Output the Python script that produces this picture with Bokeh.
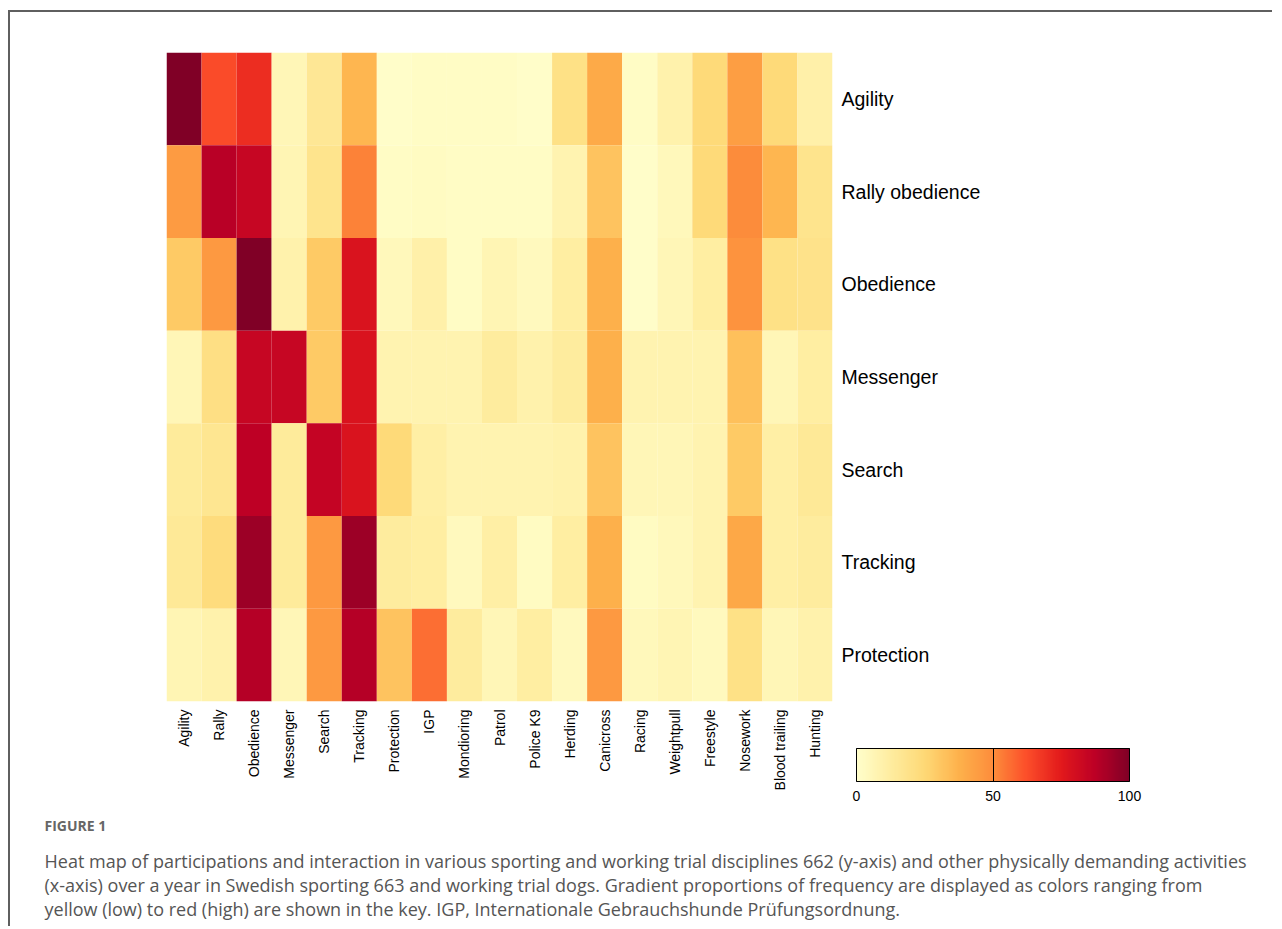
import math
from bokeh.plotting import figure
from bokeh.models import LinearColorMapper, ColorBar, FixedTicker, Title, ColumnDataSource
from bokeh.palettes import YlOrRd9, interp_palette
from bokeh.embed import file_html
from bokeh.resources import INLINE

# ---------------- data ----------------
activities = ["Agility", "Rally", "Obedience", "Messenger", "Search", "Tracking",
              "Protection", "IGP", "Mondioring", "Patrol", "Police K9", "Herding",
              "Canicross", "Racing", "Weightpull", "Freestyle", "Nosework",
              "Blood trailing", "Hunting"]
disciplines = ["Agility", "Rally obedience", "Obedience", "Messenger", "Search",
               "Tracking", "Protection"]

agility_vals    = [100, 63, 70, 6, 16, 36, 1, 2, 2, 2, 1, 20, 40, 2, 9, 24, 44, 24, 10]
rally_vals      = [45, 88, 84, 7, 18, 52, 2, 3, 2, 2, 2, 8, 32, 1, 5, 24, 50, 36, 18]
obedience_vals  = [30, 46, 100, 9, 30, 78, 5, 10, 2, 7, 4, 12, 38, 1, 6, 12, 48, 20, 19]
messenger_vals  = [6, 21, 84, 84, 30, 78, 8, 8, 8, 13, 9, 13, 38, 8, 8, 8, 33, 6, 12]
search_vals     = [14, 17, 87, 14, 85, 78, 24, 11, 8, 8, 8, 9, 32, 6, 6, 8, 30, 11, 15]
tracking_vals   = [15, 23, 94, 14, 46, 94, 13, 12, 4, 11, 3, 12, 38, 3, 5, 8, 41, 11, 13]
protection_vals = [7, 9, 89, 6, 46, 89, 32, 56, 13, 6, 12, 4, 46, 5, 7, 4, 20, 6, 9]

rows_vals = [agility_vals, rally_vals, obedience_vals, messenger_vals,
             search_vals, tracking_vals, protection_vals]

colorbar_ticks = [0, 50, 100]

caption_head = "FIGURE 1"
caption_lines = [
    "Heat map of participations and interaction in various sporting and working trial disciplines 662 (y-axis) and other physically demanding activities",
    "(x-axis) over a year in Swedish sporting 663 and working trial dogs. Gradient proportions of frequency are displayed as colors ranging from",
    "yellow (low) to red (high) are shown in the key. IGP, Internationale Gebrauchshunde Pr\u00fcfungsordnung.",
]

# ---------------- build ----------------
xs, ys, vs = [], [], []
for d, vals in zip(disciplines, rows_vals):
    for a, v in zip(activities, vals):
        xs.append(a)
        ys.append(d)
        vs.append(v)
src = ColumnDataSource(dict(x=xs, y=ys, v=vs))

palette = interp_palette(list(reversed(YlOrRd9)), 256)
mapper = LinearColorMapper(palette=palette, low=0, high=100)

p = figure(x_range=activities, y_range=list(reversed(disciplines)),
           frame_width=666, frame_height=649,
           min_border_left=156, min_border_right=440,
           min_border_top=40, min_border_bottom=225,
           y_axis_location="right",
           toolbar_location=None, output_backend="svg")

p.rect(x="x", y="y", width=1, height=1, source=src,
       fill_color={"field": "v", "transform": mapper}, line_color=None)

p.outline_line_color = None
p.xgrid.grid_line_color = None
p.ygrid.grid_line_color = None
p.background_fill_color = "white"
p.border_fill_color = "white"

for ax in (p.xaxis[0], p.yaxis[0]):
    ax.axis_line_color = None
    ax.major_tick_line_color = None
    ax.minor_tick_line_color = None
    ax.major_tick_out = 0
    ax.major_tick_in = 0
    ax.major_label_text_font = "Liberation Sans"
    ax.major_label_text_color = "black"

p.xaxis.major_label_orientation = math.pi / 2
p.xaxis.major_label_text_font_size = "14px"
p.xaxis.major_label_standoff = 8
p.yaxis.major_label_text_font_size = "19.5px"
p.yaxis.major_label_standoff = 9

cb = ColorBar(color_mapper=mapper, orientation="horizontal",
              width=273, height=33, padding=0,
              location=(690, -102),
              ticker=FixedTicker(ticks=colorbar_ticks),
              major_tick_line_color="black", major_tick_in=33, major_tick_out=0,
              major_tick_line_width=1,
              minor_tick_line_color=None,
              bar_line_color="black", bar_line_width=1,
              major_label_text_font="Liberation Sans",
              major_label_text_font_size="14px",
              major_label_text_color="black",
              label_standoff=9,
              background_fill_alpha=0, border_line_alpha=0)
p.add_layout(cb)

t_head = Title(text=caption_head, align="left", offset=-122, standoff=40,
               text_font="Open Sans", text_font_size="14px",
               text_font_style="bold", text_color="#666666",
               text_line_height=0.6)
t_body = Title(text="\n".join(caption_lines), align="left", offset=-122, standoff=-16,
               text_font="Open Sans", text_font_size="18px",
               text_font_style="normal", text_color="#555555",
               text_line_height=1.0)
p.add_layout(t_head, "below")
p.add_layout(t_body, "below")

p.styles = {"border-top": "2px solid #5f5f5f", "border-left": "2px solid #5f5f5f",
            "margin-top": "10px", "margin-left": "8px"}

open("out.html", "w").write(file_html(p, INLINE))
